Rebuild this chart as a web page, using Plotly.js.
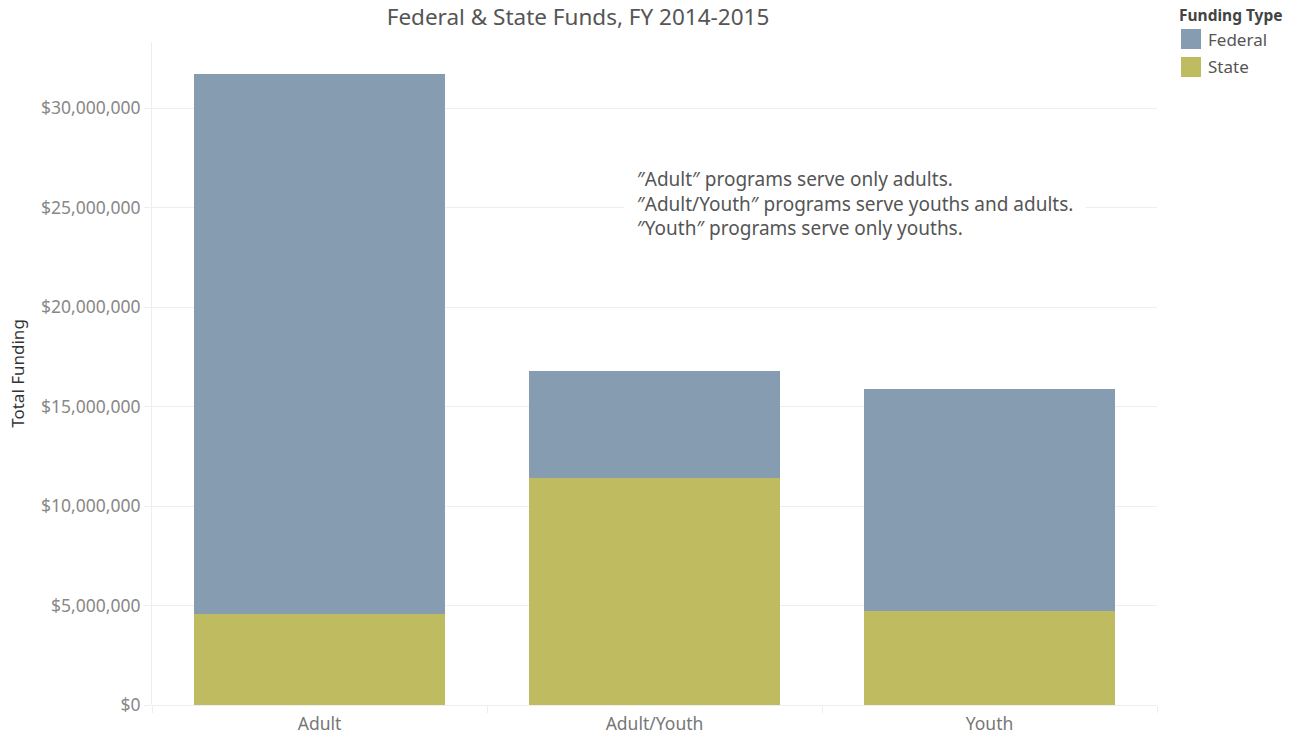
<!DOCTYPE html>
<html>
<head>
<meta charset="utf-8">
<script src="https://cdn.plot.ly/plotly-3.0.1.min.js"></script>
<style>html,body{margin:0;padding:0;background:#fff;}#chart{width:1295px;height:736px;}</style>
</head>
<body>
<div id="chart"></div>
<script>
// Data
const categories = ["Adult", "Adult/Youth", "Youth"];
const stateFunds = [4570000, 11410000, 4720000];
const federalFunds = [27140000, 5370000, 11160000];
const seriesNames = ["Federal", "State"];
const seriesColors = ["#869CB0", "#BFBB60"];
const yTickVals = [0, 5000000, 10000000, 15000000, 20000000, 25000000, 30000000];
const yTickText = ["$0", "$5,000,000", "$10,000,000", "$15,000,000", "$20,000,000", "$25,000,000", "$30,000,000"];
const noteLines = ["\u2033Adult\u2033 programs serve only adults.", "\u2033Adult/Youth\u2033 programs serve youths and adults.", "\u2033Youth\u2033 programs serve only youths."];

const FONT = "Noto Sans, Lato, sans-serif";
const W = 1295, H = 736;
const mL = 152, mR = 138, mT = 42, mB = 31;
const pw = W - mL - mR, ph = H - mT - mB;
const px = x => (x - mL) / pw;
const py = y => (H - mB - y) / ph;

const traces = [
  { type: "bar", x: categories, y: stateFunds, name: seriesNames[1], marker: { color: seriesColors[1] }, hoverinfo: "x+y+name" },
  { type: "bar", x: categories, y: federalFunds, name: seriesNames[0], marker: { color: seriesColors[0] }, hoverinfo: "x+y+name" }
];

const shapes = [];
const annotations = [];
// Note annotation
annotations.push({
  xref: "paper", yref: "paper", x: px(624), y: py(203), xanchor: "left", yanchor: "middle",
  text: noteLines.join("<br>"), align: "left", showarrow: false,
  bgcolor: "#ffffff", borderpad: 12,
  font: { family: FONT, size: 19, color: "#555555" }
});
// Custom legend
annotations.push({
  xref: "paper", yref: "paper", x: px(1177), y: py(15), xanchor: "left", yanchor: "middle",
  text: "<b>Funding Type</b>", showarrow: false, font: { family: FONT, size: 15.5, color: "#444444" }
});
seriesNames.forEach((n, i) => {
  const top = 29 + i * 28;
  shapes.push({ type: "rect", xref: "paper", yref: "paper", x0: px(1181), x1: px(1201), y0: py(top), y1: py(top + 20), fillcolor: seriesColors[i], line: { width: 0 } });
  annotations.push({
    xref: "paper", yref: "paper", x: px(1206), y: py(top + 10), xanchor: "left", yanchor: "middle",
    text: n, showarrow: false, font: { family: FONT, size: 17, color: "#555555" }
  });
});

const layout = {
  width: W, height: H,
  margin: { l: mL, r: mR, t: mT, b: mB, pad: 0 },
  paper_bgcolor: "#ffffff", plot_bgcolor: "#ffffff",
  barmode: "stack", bargap: 0.25,
  showlegend: false,
  title: { text: "Federal & State Funds, FY 2014-2015", xref: "container", x: 578 / W, xanchor: "center", yref: "container", y: 1 - 17 / H, yanchor: "middle", font: { family: FONT, size: 22.5, color: "#555555" } },
  xaxis: {
    type: "category", tickson: "boundaries", ticks: "outside", ticklen: 7, tickcolor: "#eeeeee",
    ticklabelstandoff: 6,
    showgrid: false, showline: false, zeroline: false,
    tickfont: { family: FONT, size: 17.5, color: "#777777" }
  },
  yaxis: {
    range: [0, 33320000], tickvals: yTickVals, ticktext: yTickText,
    ticks: "outside", ticklen: 7, tickcolor: "#eeeeee",
    showgrid: true, gridcolor: "#eeeeee", gridwidth: 1, zeroline: true, zerolinecolor: "#eeeeee", zerolinewidth: 1,
    showline: true, linecolor: "#eeeeee", linewidth: 1,
    tickfont: { family: FONT, size: 17.5, color: "#888888" },
    title: { text: "Total Funding", standoff: 12, font: { family: FONT, size: 17, color: "#333333" } }
  },
  shapes: shapes, annotations: annotations
};

Plotly.newPlot("chart", traces, layout, { displayModeBar: false, staticPlot: false });
</script>
</body>
</html>
